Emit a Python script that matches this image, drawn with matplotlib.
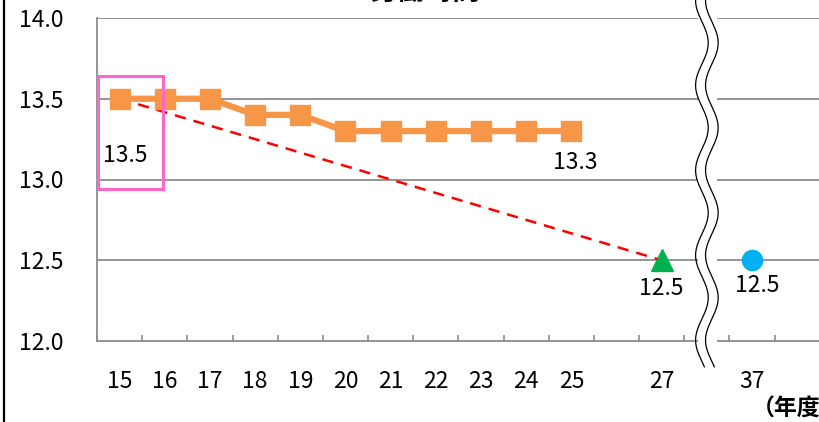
import numpy as np
import matplotlib
matplotlib.use("Agg")
import matplotlib.pyplot as plt
from matplotlib.lines import Line2D
from matplotlib.patches import Rectangle
import matplotlib.transforms as mtransforms

plt.rcParams['font.family'] = ['Noto Sans CJK JP', 'DejaVu Sans']

# ---- data ----
tick_labels = ['15', '16', '17', '18', '19', '20', '21', '22', '23', '24', '25', '', '27', '', '37', '']
actual_years = ['15', '16', '17', '18', '19', '20', '21', '22', '23', '24', '25']
actual_values = [13.5, 13.5, 13.5, 13.4, 13.4, 13.3, 13.3, 13.3, 13.3, 13.3, 13.3]
target_year_1 = '27'
target_value_1 = 12.5
target_year_2 = '37'
target_value_2 = 12.5
y_ticks = [12.0, 12.5, 13.0, 13.5, 14.0]

pos = {lab: i for i, lab in enumerate(tick_labels) if lab}
x_act = [pos[y] for y in actual_years]
x_t1 = pos[target_year_1]
x_t2 = pos[target_year_2]
x_break = (x_t1 + x_t2) / 2.0

W, H = 819, 422
fig = plt.figure(figsize=(W / 100, H / 100), dpi=100)
ax = fig.add_axes([97 / W, 1 - 341 / H, 1 - 97 / W + 0.001, 323 / H])

ax.set_xlim(-0.5, len(tick_labels) - 0.5)
ax.set_ylim(12.0, 14.0)

grid_c = '#8c8c8c'
for yv in y_ticks[1:]:
    ax.axhline(yv, color=grid_c, lw=1.3, zorder=1)

for s in ['top', 'right']:
    ax.spines[s].set_visible(False)
ax.spines['left'].set_color(grid_c)
ax.spines['bottom'].set_color(grid_c)
ax.spines['left'].set_linewidth(1.3)
ax.spines['bottom'].set_linewidth(1.3)

fs = 16.5
ax.set_yticks(y_ticks)
ax.set_yticklabels([f'{v:.1f}' for v in y_ticks], fontsize=fs)
ax.tick_params(axis='y', length=0, pad=24)

ax.set_xticks(range(len(tick_labels)))
ax.set_xticklabels(tick_labels, fontsize=fs)
ax.tick_params(axis='x', which='major', length=0, pad=21)
ax.set_xticks(np.arange(-0.5, len(tick_labels), 1.0), minor=True)
ax.tick_params(axis='x', which='minor', direction='in', length=4, color=grid_c, width=1.2)

orange = '#F79646'
# red dashed trend line
ax.plot([x_act[0], x_t1], [actual_values[0], target_value_1], color='#FF0000', lw=1.8,
        ls=(0, (4.5, 3.2)), zorder=2)
ax.plot(x_act, actual_values, color=orange, lw=4.5, marker='s', ms=14.5, zorder=3)
ax.plot([x_t1], [target_value_1], marker='^', color='#00B050', ms=16, ls='none', zorder=4)
ax.plot([x_t2], [target_value_2], marker='o', color='#00B0F0', ms=14.5, ls='none', zorder=4)

lab_kw = dict(fontsize=fs, ha='center', va='center', zorder=5)
ax.annotate(f'{actual_values[0]:.1f}', (x_act[0], actual_values[0]), xytext=(4, -41),
            textcoords='offset points', **lab_kw)
ax.annotate(f'{actual_values[-1]:.1f}', (x_act[-1], actual_values[-1]), xytext=(3, -23),
            textcoords='offset points', **lab_kw)
ax.annotate(f'{target_value_1:.1f}', (x_t1, target_value_1), xytext=(0, -20),
            textcoords='offset points', **lab_kw)
ax.annotate(f'{target_value_2:.1f}', (x_t2, target_value_2), xytext=(4, -18),
            textcoords='offset points', **lab_kw)

# pink highlight box around the first value
ax.add_patch(Rectangle((x_act[0] - 0.48, 12.94), 1.44, 0.70, fill=False,
                       edgecolor='#FF66CC', lw=2.2, zorder=6, clip_on=False))

# axis break (wavy white band)
trans = mtransforms.blended_transform_factory(ax.transData, ax.transAxes)
ax.add_patch(Rectangle((x_break - 0.2, -0.1), 0.42, 1.2, transform=trans,
                       facecolor='white', edgecolor='none', zorder=7, clip_on=False))
yy = np.linspace(-0.08, 1.07, 400)
amp = 0.14
period = 0.263
wave = amp * np.sin(2 * np.pi * (yy - 0.923) / period + np.pi / 2)
for off in (-0.11, 0.11):
    ax.plot(x_break + off + wave, yy, color='black', lw=0.9, transform=trans,
            zorder=8, clip_on=False)

# decorations
fig.add_artist(Line2D([4 / W, 4 / W], [0, 1], color='black', lw=1.6))
fig.text(425 / W, 1 + 0 / H, '労働時間', fontsize=20, fontweight='bold',
         ha='center', va='baseline')
fig.text(752 / W, 1 - 409 / H, '（年度）', fontsize=16.5, fontweight='bold',
         ha='left', va='center')

fig.savefig('out.png', dpi=100)
